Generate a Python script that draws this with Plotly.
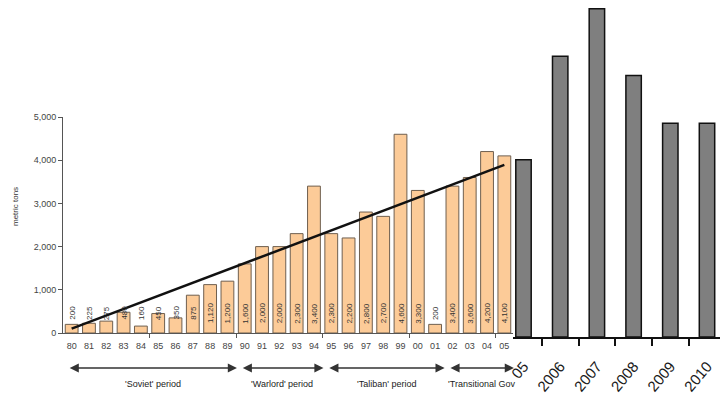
import plotly.graph_objects as go

# ---- data ----
years = ["80", "81", "82", "83", "84", "85", "86", "87", "88", "89",
         "90", "91", "92", "93", "94", "95", "96", "97", "98", "99",
         "00", "01", "02", "03", "04", "05"]
production = [200, 225, 275, 480, 160, 450, 350, 875, 1120, 1200,
              1600, 2000, 2000, 2300, 3400, 2300, 2200, 2800, 2700, 4600,
              3300, 200, 3400, 3600, 4200, 4100]
value_labels = ["200", "225", "275", "480", "160", "450", "350", "875", "1,120", "1,200",
                "1,600", "2,000", "2,000", "2,300", "3,400", "2,300", "2,200", "2,800", "2,700", "4,600",
                "3,300", "200", "3,400", "3,600", "4,200", "4,100"]
trend_years = ["80", "05"]
trend_values = [100, 3890]

recent_years = ["2005", "2006", "2007", "2008", "2009", "2010"]
recent_tick_labels = ["05", "2006", "2007", "2008", "2009", "2010"]
recent_production = [4100, 6500, 7600, 6050, 4950, 4950]

period_names = ["'Soviet' period", "'Warlord' period", "'Taliban' period", "'Transitional Gov"]
period_start = ["80", "90", "95", "02"]
period_end = ["89", "94", "01", "05"]

yticks = [0, 1000, 2000, 3000, 4000, 5000]

# ---- figure ----
idx = list(range(len(years)))
pos = {y: i for i, y in enumerate(years)}
FONT = "Liberation Sans, Arial, sans-serif"

fig = go.Figure()
fig.add_trace(go.Bar(
    x=idx, y=production, xaxis="x", yaxis="y",
    marker=dict(color="#FCCB98", line=dict(color="#6f5f4f", width=1)),
    width=0.74, showlegend=False, hoverinfo="x+y"))
fig.add_trace(go.Scatter(
    x=[pos[y] for y in trend_years], y=trend_values, xaxis="x", yaxis="y",
    mode="lines", line=dict(color="#111111", width=2.5), showlegend=False))
fig.add_trace(go.Bar(
    x=recent_years, y=recent_production, xaxis="x2", yaxis="y2",
    marker=dict(color="#7f7f7f", line=dict(color="#111111", width=1.5)),
    width=0.42, showlegend=False))

annotations = []
for i, t in enumerate(value_labels):
    annotations.append(dict(x=i, y=0, xref="x", yref="y", text=t, textangle=-90,
                            showarrow=False, yanchor="middle", xanchor="center",
                            yshift=20, font=dict(family=FONT, size=8, color="#333333")))

arrow_y = 1 - 368 / 398
label_y = 1 - 384 / 398
for name, s, e in zip(period_names, period_start, period_end):
    x0 = pos[s] - 0.2
    x1 = pos[e] + 0.55
    annotations.append(dict(x=x1, y=arrow_y, xref="x", yref="paper",
                            ax=x0, ay=0, axref="x", ayref="pixel",
                            text="", showarrow=True, arrowhead=2, startarrowhead=2,
                            arrowside="end+start", arrowsize=1.3, startarrowsize=1.3,
                            arrowwidth=1.4, arrowcolor="#333333", standoff=0, startstandoff=0))
    annotations.append(dict(x=(x0 + x1) / 2, y=label_y, xref="x", yref="paper",
                            text=name, showarrow=False, xanchor="center", yanchor="middle",
                            font=dict(family=FONT, size=9, color="#222222")))

annotations.append(dict(x=15 / 720, y=1 - 207 / 398, xref="paper", yref="paper",
                        text="metric tons", textangle=-90, showarrow=False,
                        xanchor="center", yanchor="middle",
                        font=dict(family=FONT, size=8, color="#333333")))

fig.update_layout(
    width=720, height=398,
    margin=dict(l=0, r=0, t=0, b=0, autoexpand=False),
    paper_bgcolor="white", plot_bgcolor="rgba(0,0,0,0)",
    bargap=0.26,
    font=dict(family=FONT),
    annotations=annotations,
    xaxis=dict(domain=[63 / 720, 513 / 720], range=[-0.5, 25.5], anchor="y", automargin=False,
               tickmode="array", tickvals=idx, ticktext=years, ticks="",
               minor=dict(tickmode="array", tickvals=[i + 0.5 for i in range(4, len(years), 5)],
                          ticks="outside", ticklen=4, tickcolor="#555555"),
               showline=True, linecolor="#555555", linewidth=1, showgrid=False,
               zeroline=False, tickfont=dict(size=9, color="#444444"), ticklabelstandoff=4),
    yaxis=dict(domain=[1 - 333 / 398, 1 - 117 / 398], range=[0, 5000], anchor="x", automargin=False,
               tickmode="array", tickvals=yticks, tickformat=",",
               ticks="outside", ticklen=4, tickcolor="#555555",
               showline=True, linecolor="#555555", linewidth=1, showgrid=False,
               zeroline=False, tickfont=dict(size=9, color="#444444")),
    xaxis2=dict(domain=[513 / 720, 1.0], range=[-0.286, 5.354], anchor="y2", type="category",
                automargin=False,
                tickmode="array", tickvals=recent_years, ticktext=recent_tick_labels,
                tickson="boundaries", ticks="outside", ticklen=7, tickcolor="#111111",
                tickwidth=1.5, showline=True, linecolor="#111111", linewidth=1.5,
                showgrid=False, tickangle=-50, ticklabelstandoff=13,
                tickfont=dict(size=15, color="#1a1a1a")),
    yaxis2=dict(domain=[1 - 337 / 398, 1.0], range=[0, 7800], anchor="x2", visible=False,
                automargin=False),
)

fig.write_html("out.html", config={"displayModeBar": False},
               post_script="document.body.style.margin='0';document.body.style.overflow='hidden';")
